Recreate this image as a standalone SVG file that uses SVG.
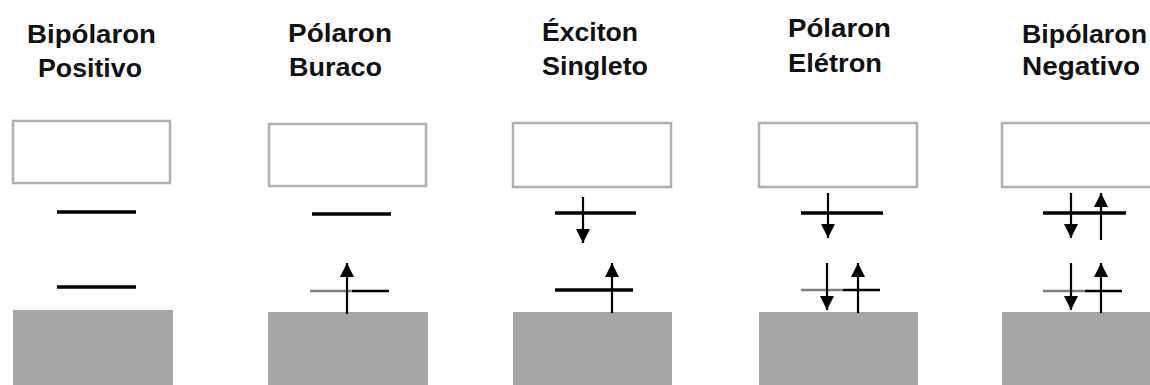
<svg xmlns="http://www.w3.org/2000/svg" width="1150" height="385" viewBox="0 0 1150 385">
<style>
.t{font-family:"Liberation Sans",Arial,sans-serif;font-weight:bold;font-size:25px;fill:#111}
.box{fill:#fff;stroke:#b0b0b0;stroke-width:2.5}
.band{fill:#a6a6a6}
.lv{stroke:#000;stroke-width:3.5}
.lg{stroke:#808080;stroke-width:2.5}
.lb{stroke:#000;stroke-width:2.5}
.ar{stroke:#000;stroke-width:2.2;fill:none;marker-end:url(#ah)}
</style>
<defs>
<marker id="ah" markerUnits="userSpaceOnUse" markerWidth="16" markerHeight="16" refX="14" refY="7" orient="auto">
<path d="M0,0 L14,7 L0,14 z" fill="#000"/>
</marker>
</defs>
<rect width="1150" height="385" fill="#fff"/>

<g id="bipolaron-positivo">
<text class="t" x="27" y="43" textLength="129" lengthAdjust="spacingAndGlyphs">Bipólaron</text>
<text class="t" x="38" y="77" textLength="104" lengthAdjust="spacingAndGlyphs">Positivo</text>
<rect class="box" x="13" y="121" width="157" height="62"/>
<line class="lv" x1="57" y1="212" x2="136" y2="212"/>
<line class="lv" x1="57" y1="287" x2="136" y2="287"/>
<rect class="band" x="13" y="310" width="160" height="75"/>
</g>

<g id="polaron-buraco">
<text class="t" x="288" y="42" textLength="104" lengthAdjust="spacingAndGlyphs">Pólaron</text>
<text class="t" x="289" y="76" textLength="93" lengthAdjust="spacingAndGlyphs">Buraco</text>
<rect class="box" x="269" y="124" width="157" height="62"/>
<line class="lv" x1="312" y1="214" x2="391" y2="214"/>
<line class="lg" x1="310" y1="291" x2="352" y2="291"/>
<line class="lb" x1="352" y1="291" x2="389" y2="291"/>
<rect class="band" x="268" y="312" width="160" height="73"/>
</g>

<g id="exciton-singleto">
<text class="t" x="542" y="41" textLength="96" lengthAdjust="spacingAndGlyphs">Éxciton</text>
<text class="t" x="542" y="75" textLength="106" lengthAdjust="spacingAndGlyphs">Singleto</text>
<rect class="box" x="513" y="123" width="158" height="64"/>
<line class="lv" x1="555" y1="213" x2="636" y2="213"/>
<line class="lv" x1="555" y1="290" x2="633" y2="290"/>
<rect class="band" x="513" y="312" width="159" height="73"/>
</g>

<g id="polaron-eletron">
<text class="t" x="788" y="37" textLength="103" lengthAdjust="spacingAndGlyphs">Pólaron</text>
<text class="t" x="788" y="72" textLength="94" lengthAdjust="spacingAndGlyphs">Elétron</text>
<rect class="box" x="759" y="123" width="158" height="64"/>
<line class="lv" x1="801" y1="213" x2="883" y2="213"/>
<line class="lg" x1="801" y1="290" x2="843" y2="290"/>
<line class="lb" x1="843" y1="290" x2="880" y2="290"/>
<rect class="band" x="759" y="312" width="159" height="73"/>
</g>

<g id="bipolaron-negativo">
<text class="t" x="1022" y="43" textLength="125" lengthAdjust="spacingAndGlyphs">Bipólaron</text>
<text class="t" x="1022" y="75" textLength="118" lengthAdjust="spacingAndGlyphs">Negativo</text>
<rect class="box" x="1002" y="123" width="170" height="64"/>
<line class="lv" x1="1043" y1="213" x2="1126" y2="213"/>
<line class="lg" x1="1043" y1="291" x2="1085" y2="291"/>
<line class="lb" x1="1085" y1="291" x2="1122" y2="291"/>
<rect class="band" x="1002" y="312" width="148" height="73"/>
</g>

<g id="connectors">
<line class="ar" x1="347" y1="314" x2="347" y2="263"/>
<line class="ar" x1="583" y1="197" x2="583" y2="243"/>
<line class="ar" x1="612" y1="313" x2="612" y2="263"/>
<line class="ar" x1="828" y1="193" x2="828" y2="238"/>
<line class="ar" x1="827" y1="263" x2="827" y2="310"/>
<line class="ar" x1="858" y1="313" x2="858" y2="263"/>
<line class="ar" x1="1071" y1="193" x2="1071" y2="238"/>
<line class="ar" x1="1101" y1="240" x2="1101" y2="193"/>
<line class="ar" x1="1071" y1="263" x2="1071" y2="310"/>
<line class="ar" x1="1101" y1="313" x2="1101" y2="263"/>
</g>
</svg>
